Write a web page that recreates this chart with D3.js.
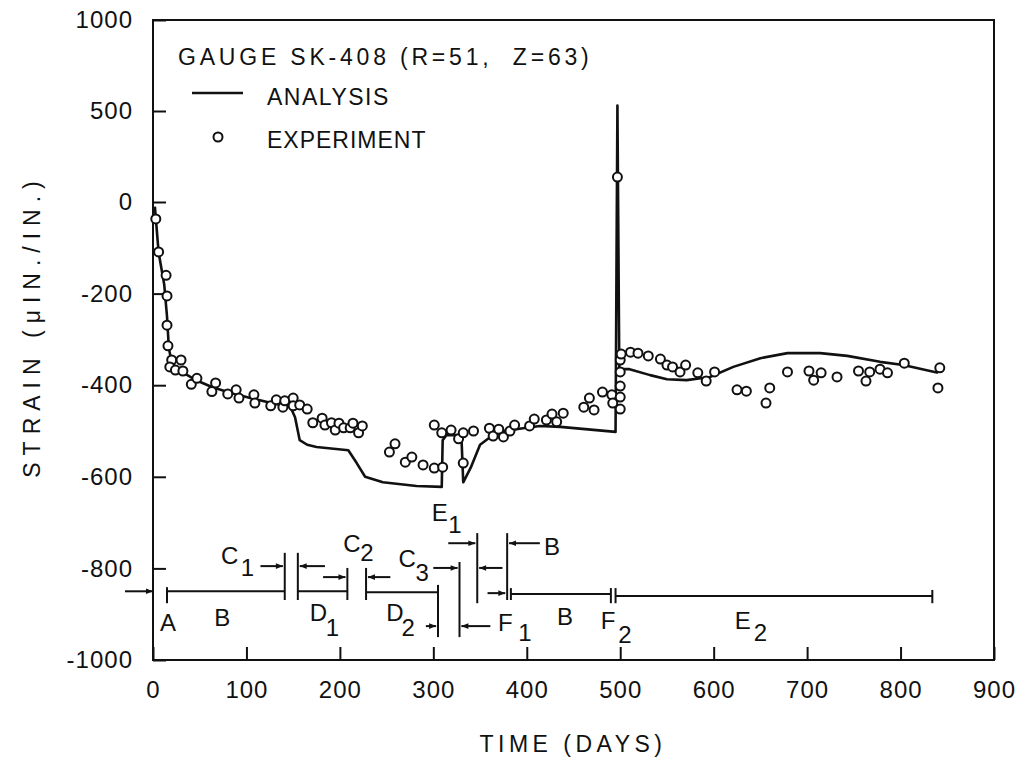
<!DOCTYPE html>
<html>
<head>
<meta charset="utf-8">
<script src="https://cdn.jsdelivr.net/npm/d3@7"></script>
<style>
  body { margin: 0; background: #fff; }
  text { font-family: "Liberation Sans", Arial, sans-serif; fill: #111; }
</style>
</head>
<body>
<div id="chart"></div>
<script>
// DATA
// ---------------------------------------------------------------------------
const xTicks = [0, 100, 200, 300, 400, 500, 600, 700, 800, 900];
const yTicks = [1000, 500, 0, -200, -400, -600, -800, -1000];

// analysis curve (days, micro-strain)
const analysisDays = [2, 6, 12, 15, 17, 20, 26, 35, 45, 63, 80, 104, 129, 147, 152, 157, 165, 175, 209, 218, 227, 246, 282, 309,
  310, 314, 330, 332, 340, 350, 361, 375, 396, 414, 436, 495, 497, 499, 510, 532, 550, 571, 596, 621, 650, 679, 714, 743, 778, 803, 840];
const analysisStrain = [-10, -110, -180, -250, -320, -350, -365, -376, -388, -404, -415, -428, -440, -447, -470, -520, -530, -535, -542, -570, -600, -612, -620, -622,
  -520, -509, -509, -612, -580, -530, -513, -500, -494, -489, -491, -502, 530, -365, -365, -378, -387, -389, -382, -360, -341, -330, -330, -336, -349, -356, -373];

// experiment points
const expDays = [3, 6, 14, 15, 15, 16, 20, 30, 18, 24, 32, 41, 47, 63, 67, 80, 89, 92, 108, 109, 126, 132, 139, 141, 150, 150, 157, 165,
  171, 181, 184, 191, 195, 199, 204, 211, 214, 220, 224, 253, 259, 270, 277, 289, 301, 310, 301, 309, 319, 327, 332, 332, 343,
  360, 364, 370, 375, 382, 387, 403, 408, 421, 427, 432, 439, 461, 467, 472, 481, 491, 492, 500, 500, 500, 500, 500, 501, 497,
  511, 519, 530, 543, 550, 556, 564, 570, 583, 592, 601, 625, 635, 656, 660, 679, 702, 707, 715, 732, 755, 763, 767, 778, 786, 804, 842, 840];
const expStrain = [-37, -109, -160, -205, -269, -314, -345, -345, -360, -367, -369, -398, -385, -414, -395, -419, -410, -428, -421, -439, -445, -432, -448, -434, -428, -445, -443, -452,
  -482, -472, -487, -482, -498, -483, -493, -493, -483, -504, -489, -546, -528, -568, -557, -574, -581, -579, -487, -504, -498, -517, -504, -570, -500,
  -494, -511, -496, -513, -500, -487, -489, -474, -476, -463, -480, -461, -448, -428, -454, -415, -421, -439, -426, -452, -402, -371, -345, -332, 137,
  -328, -330, -336, -343, -356, -360, -371, -356, -373, -391, -371, -410, -413, -439, -406, -371, -369, -389, -373, -382, -369, -391, -371, -365, -373, -352, -362, -406];

// loading-phase diagram (days, strain)
const barDays = [15, 141, 155, 208, 228, 305, 328, 347, 379, 383, 490, 495, 834];
const barTop = [-841, -766, -766, -799, -799, -836, -786, -723, -723, -843, -843, -843, -847];
const barBottom = [-876, -869, -869, -869, -869, -950, -950, -876, -869, -869, -876, -876, -876];

const spanFrom = [15, 155, 228, 383, 495];
const spanTo = [141, 208, 305, 490, 834];
const spanStrain = [-850, -850, -852, -856, -860];

const arrowFrom = [-30, 115, 184, 182, 254, 292, 300, 361, 316, 374, 358, 414];
const arrowTo = [0, 139, 157, 206, 230, 303, 326, 330, 345, 349, 377, 381];
const arrowStrain = [-850, -795, -795, -819, -819, -926, -799, -926, -745, -799, -854, -745];

const phaseText = ["A", "B", "C", "1", "D", "1", "C", "2", "D", "2", "C", "3", "E", "1", "B", "F", "1", "B", "F", "2", "E", "2"];
const phaseDay = [16, 74, 82, 101, 177, 192, 213, 229, 259, 273, 272, 288, 307, 323, 427, 377, 398, 441, 487, 505, 631, 650];
const phaseStrain = [-919, -908, -771, -797, -897, -930, -745, -766, -897, -930, -779, -810, -679, -705, -753, -919, -941, -906, -913, -945, -913, -941];

// CHART SETUP
// ---------------------------------------------------------------------------
const margin = { top: 20, right: 34, bottom: 102, left: 153 };
const width = 1028 - margin.left - margin.right;
const height = 762 - margin.top - margin.bottom;

const x = d3.scaleLinear([0, 900], [0, width]);
// axis is compressed above zero (500 per division instead of 200)
const y = d3.scaleLinear([-1000, 0, 1000], [height, 182, 0]);

const svg = d3.select("#chart").append("svg")
  .attr("width", 1028)
  .attr("height", 762);

svg.append("defs").append("marker")
  .attr("id", "head")
  .attr("viewBox", "0 0 10 10")
  .attr("refX", 10)
  .attr("refY", 5)
  .attr("markerUnits", "userSpaceOnUse")
  .attr("markerWidth", 9)
  .attr("markerHeight", 7)
  .attr("orient", "auto")
  .append("path")
  .attr("d", "M0,1 L10,5 L0,9 z")
  .attr("fill", "#111");

const g = svg.append("g")
  .attr("transform", `translate(${margin.left},${margin.top})`);

// AXES
// ---------------------------------------------------------------------------
g.append("g")
  .attr("transform", `translate(0,${height})`)
  .call(d3.axisBottom(x).tickValues(xTicks).tickSize(-13).tickPadding(21))
  .call(a => a.select(".domain").remove())
  .call(a => a.selectAll("line").attr("stroke", "#111").attr("stroke-width", 2))
  .call(a => a.selectAll("text").attr("font-size", 24).attr("font-family", null).attr("letter-spacing", 1));

g.append("g")
  .call(d3.axisLeft(y).tickValues(yTicks).tickSize(-13).tickPadding(20).tickFormat(d => d < 0 ? "-" + Math.abs(d) : String(d)))
  .call(a => a.select(".domain").remove())
  .call(a => a.selectAll("line").attr("stroke", "#111").attr("stroke-width", 2))
  .call(a => a.selectAll("text").attr("font-size", 24).attr("font-family", null).attr("letter-spacing", 1));

g.append("rect")
  .attr("width", width)
  .attr("height", height)
  .attr("fill", "none")
  .attr("stroke", "#111")
  .attr("stroke-width", 2);

// AXIS TITLES
svg.append("text")
  .attr("x", 573)
  .attr("y", 752)
  .attr("text-anchor", "middle")
  .attr("font-size", 23)
  .attr("letter-spacing", 4.5)
  .text("TIME (DAYS)");

svg.append("text")
  .attr("transform", "translate(40,326) rotate(-90)")
  .attr("text-anchor", "middle")
  .attr("font-size", 23)
  .attr("letter-spacing", 7)
  .text("STRAIN (\u03bcIN./IN.)");

// ANALYSIS LINE
// ---------------------------------------------------------------------------
const line = d3.line()
  .x((d, i) => x(analysisDays[i]))
  .y(d => y(d));

g.append("path")
  .datum(analysisStrain)
  .attr("d", line)
  .attr("fill", "none")
  .attr("stroke", "#111")
  .attr("stroke-width", 2.6)
  .attr("stroke-linejoin", "round");

// EXPERIMENT POINTS
g.selectAll("circle.exp")
  .data(expStrain)
  .enter()
  .append("circle")
  .attr("class", "exp")
  .attr("cx", (d, i) => x(expDays[i]))
  .attr("cy", d => y(d))
  .attr("r", 4.5)
  .attr("fill", "#fff")
  .attr("stroke", "#111")
  .attr("stroke-width", 2);

// LOADING PHASE DIAGRAM
// ---------------------------------------------------------------------------
const phase = g.append("g").attr("stroke", "#111").attr("stroke-width", 2);

phase.selectAll("line.bar")
  .data(barDays)
  .enter()
  .append("line")
  .attr("class", "bar")
  .attr("x1", d => x(d)).attr("x2", d => x(d))
  .attr("y1", (d, i) => y(barTop[i]))
  .attr("y2", (d, i) => y(barBottom[i]));

phase.selectAll("line.span")
  .data(spanFrom)
  .enter()
  .append("line")
  .attr("class", "span")
  .attr("x1", d => x(d))
  .attr("x2", (d, i) => x(spanTo[i]))
  .attr("y1", (d, i) => y(spanStrain[i]))
  .attr("y2", (d, i) => y(spanStrain[i]));

phase.selectAll("line.arrow")
  .data(arrowFrom)
  .enter()
  .append("line")
  .attr("class", "arrow")
  .attr("x1", d => x(d))
  .attr("x2", (d, i) => x(arrowTo[i]))
  .attr("y1", (d, i) => y(arrowStrain[i]))
  .attr("y2", (d, i) => y(arrowStrain[i]))
  .attr("marker-end", "url(#head)");

g.selectAll("text.phase")
  .data(phaseText)
  .enter()
  .append("text")
  .attr("class", "phase")
  .attr("x", (d, i) => x(phaseDay[i]))
  .attr("y", (d, i) => y(phaseStrain[i]))
  .attr("text-anchor", "middle")
  .attr("dominant-baseline", "central")
  .attr("font-size", 24)
  .text(d => d);

// LEGEND
// ---------------------------------------------------------------------------
svg.append("text")
  .attr("x", 178)
  .attr("y", 65)
  .attr("font-size", 23)
  .attr("letter-spacing", 3.8)
  .attr("xml:space", "preserve")
  .style("white-space", "pre")
  .text("GAUGE SK-408 (R=51,  Z=63)");

svg.append("line")
  .attr("x1", 192).attr("x2", 243)
  .attr("y1", 93).attr("y2", 93)
  .attr("stroke", "#111")
  .attr("stroke-width", 2.6);

svg.append("text")
  .attr("x", 267)
  .attr("y", 105)
  .attr("font-size", 23)
  .attr("letter-spacing", 1.5)
  .text("ANALYSIS");

svg.append("circle")
  .attr("cx", 218)
  .attr("cy", 137)
  .attr("r", 4.5)
  .attr("fill", "#fff")
  .attr("stroke", "#111")
  .attr("stroke-width", 2);

svg.append("text")
  .attr("x", 267)
  .attr("y", 148)
  .attr("font-size", 23)
  .attr("letter-spacing", 1)
  .text("EXPERIMENT");
</script>
</body>
</html>
